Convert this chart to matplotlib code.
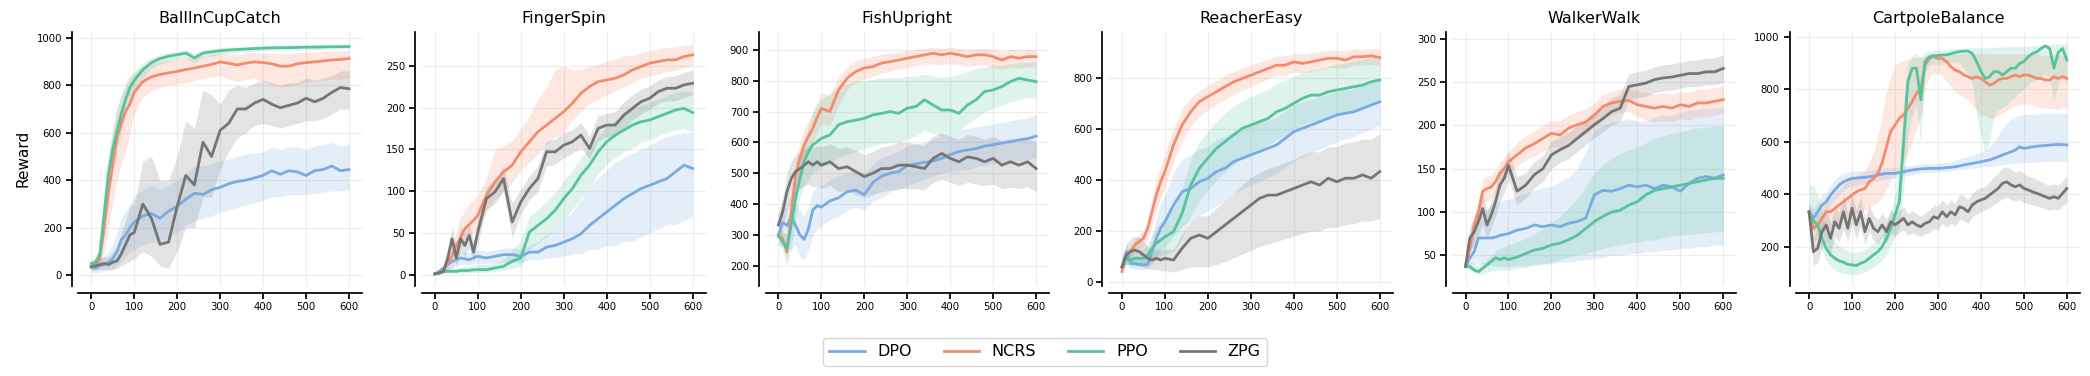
import matplotlib
matplotlib.use("Agg")
import matplotlib.pyplot as plt
import numpy as np

# ---------------- data ----------------
algorithms = ["DPO", "NCRS", "PPO", "ZPG"]
colors = {"DPO": "#79abe2", "NCRS": "#f48b6d", "PPO": "#56c39c", "ZPG": "#757575"}
titles = ["BallInCupCatch", "FingerSpin", "FishUpright", "ReacherEasy", "WalkerWalk", "CartpoleBalance"]

steps_a = [0, 10, 20, 30, 40, 50, 60, 70, 80, 90, 100, 120, 140, 160, 180, 200, 220, 240, 260, 280, 300,
           320, 340, 360, 380, 400, 420, 440, 460, 480, 500, 520, 540, 560, 580, 600]
steps_b = list(range(0, 601, 10))

# BallInCupCatch
ball_dpo = [35,30,40,45,55,70,100,150,170,200,225,250,260,240,270,290,320,345,340,360,370,385,395,400,410,420,440,425,440,435,420,440,445,460,440,445]
ball_dpo_lo = [15,10,15,20,20,25,40,60,80,100,110,130,140,140,160,180,210,230,240,250,265,275,285,295,305,315,330,330,340,340,340,345,350,355,355,360]
ball_dpo_hi = [55,55,70,80,100,130,180,240,270,300,330,360,380,360,380,400,430,460,460,470,480,490,500,510,515,520,540,530,540,540,530,545,550,560,545,550]
ball_ncrs = [40,45,70,200,350,470,580,640,690,720,770,815,835,845,852,858,866,872,880,887,898,892,885,893,898,895,890,880,880,890,895,898,902,906,908,912]
ball_ncrs_lo = [25,30,40,100,200,300,400,470,520,600,680,750,775,790,800,805,810,820,828,835,840,825,815,822,828,818,805,795,795,805,812,818,822,826,825,830]
ball_ncrs_hi = [55,70,110,300,480,600,700,760,800,830,850,880,895,900,905,910,915,920,925,930,935,932,930,935,938,936,935,932,932,936,940,940,942,944,945,947]
ball_ppo = [50,55,90,260,430,530,610,680,740,790,820,865,895,912,922,928,935,915,935,940,945,948,950,952,954,956,957,958,958,959,960,960,961,962,962,963]
ball_ppo_lo = [35,40,60,180,330,420,520,600,680,740,780,830,870,890,900,910,915,895,918,922,930,935,938,940,942,944,945,946,947,948,949,950,951,952,952,953]
ball_ppo_hi = [65,75,130,340,520,620,700,760,810,840,860,895,915,930,937,942,948,935,950,953,957,959,961,962,964,965,966,967,968,968,969,969,970,970,971,971]
ball_zpg = [35,40,45,50,45,55,60,90,130,170,180,300,240,130,140,290,420,380,560,500,610,640,700,700,725,740,720,705,715,725,745,730,745,770,790,785]
ball_zpg_lo = [20,20,25,25,25,25,30,40,50,60,70,100,80,40,30,100,200,200,330,330,450,520,580,600,630,640,630,620,630,640,650,650,660,680,700,700]
ball_zpg_hi = [55,60,70,80,80,100,120,180,230,290,300,480,500,400,400,500,650,620,780,760,720,780,800,790,810,820,810,800,810,810,830,820,830,840,860,860]

# FingerSpin
finger_dpo = [1,4,8,12,16,18,20,19,18,20,22,20,22,24,24,22,27,27,33,35,39,43,49,59,67,75,83,91,97,103,107,111,115,123,131,127]
finger_dpo_lo = [0,2,4,6,8,10,12,12,12,13,14,13,14,15,15,14,18,18,20,20,22,25,25,30,30,35,35,40,40,45,50,55,60,60,65,70]
finger_dpo_hi = [3,6,12,18,22,25,28,27,26,28,30,28,30,32,32,30,35,40,48,55,65,75,90,105,115,125,135,140,145,150,155,160,165,168,170,170]
finger_ncrs = [1,2,5,15,22,35,45,55,60,65,71,95,111,123,131,147,159,171,179,187,195,205,217,225,231,233,235,239,245,249,253,255,257,257,261,263]
finger_ncrs_lo = [0,1,2,5,10,20,30,40,45,50,55,75,90,100,110,125,135,145,155,165,170,185,195,205,210,215,220,225,230,235,238,240,243,245,248,250]
finger_ncrs_hi = [2,4,8,25,35,50,70,75,85,90,95,115,150,155,160,175,190,210,225,245,250,245,245,250,252,255,258,262,262,265,268,270,272,272,275,275]
finger_ppo = [1,2,4,4,4,4,5,5,5,6,6,6,8,10,16,20,51,59,67,77,91,103,119,131,147,159,167,173,179,183,185,189,193,197,199,194]
finger_ppo_lo = [0,1,2,2,2,2,2,2,2,3,3,3,4,5,8,10,30,38,45,55,65,78,92,105,120,132,140,147,152,158,162,166,170,173,175,170]
finger_ppo_hi = [2,3,6,8,8,8,9,10,10,12,12,12,14,18,30,40,70,78,88,98,112,125,140,152,165,178,185,192,198,203,206,210,214,218,220,218]
finger_zpg = [1,2,4,20,43,20,43,35,47,27,51,91,99,115,63,87,103,115,147,147,155,159,167,151,175,179,179,191,199,207,211,219,223,223,227,229]
finger_zpg_lo = [0,1,2,10,25,10,28,22,32,15,38,78,85,100,45,72,90,100,130,132,140,145,152,138,160,165,165,175,185,192,198,205,208,208,212,215]
finger_zpg_hi = [2,4,8,30,58,32,58,50,62,40,65,105,113,130,85,102,118,130,160,162,170,173,182,165,190,193,195,207,215,222,226,233,237,238,242,245]

# FishUpright
fish_dpo = [300,340,330,360,330,300,285,320,380,395,390,410,420,440,445,430,470,490,500,505,525,530,535,540,548,560,570,575,580,588,592,598,602,608,612,620]
fish_dpo_lo = [280,300,270,250,270,230,220,250,300,320,330,350,360,380,390,380,410,420,440,445,460,470,480,490,500,505,510,510,520,525,530,535,540,540,545,550]
fish_dpo_hi = [320,380,390,430,400,380,360,390,440,460,460,480,490,500,510,500,530,550,560,570,590,595,600,610,620,630,640,645,650,655,660,665,670,675,680,690]
fish_ncrs = [294,289,245,375,494,548,592,620,645,680,710,700,770,808,830,841,846,857,862,867,873,878,884,889,884,889,884,878,884,884,878,867,878,873,878,878]
fish_ncrs_lo = [270,260,220,330,440,500,540,570,600,630,660,655,720,770,795,805,815,825,830,838,842,848,852,855,852,855,852,846,850,850,845,835,845,840,845,845]
fish_ncrs_hi = [320,315,275,420,540,600,640,670,700,730,760,750,810,845,865,872,878,885,890,893,898,902,905,908,905,908,905,902,905,905,902,895,902,900,902,902]
fish_ppo = [300,278,256,332,418,483,538,570,592,602,613,624,657,667,672,678,689,694,700,694,711,716,738,721,705,705,694,721,738,765,770,781,797,808,802,797]
fish_ppo_lo = [270,250,200,260,350,420,460,480,500,510,520,530,550,560,570,580,590,595,600,600,610,620,640,630,620,630,640,660,680,700,710,720,730,740,745,745]
fish_ppo_hi = [330,310,300,400,480,540,600,650,690,720,740,760,780,790,800,800,805,810,810,810,815,815,820,815,810,815,820,830,840,845,850,850,855,858,860,860]
fish_zpg = [332,375,440,483,505,515,526,537,526,537,526,537,515,521,505,489,500,515,515,526,526,521,515,548,564,548,537,553,548,537,548,526,537,526,537,515]
fish_zpg_lo = [290,320,380,420,440,450,460,465,455,460,450,460,440,445,430,420,430,440,445,450,450,450,445,470,480,470,460,470,465,460,465,450,455,450,455,440]
fish_zpg_hi = [370,420,500,540,560,570,580,590,580,590,585,595,580,585,575,560,570,585,590,600,600,595,590,620,630,620,610,625,620,610,620,605,612,605,612,600]

# ReacherEasy
reacher_dpo = [60,120,75,72,70,68,70,120,172,211,237,302,354,367,393,407,433,446,472,485,498,511,524,537,563,589,602,615,628,641,654,661,667,680,693,706]
reacher_dpo_lo = [50,80,55,50,50,50,50,70,100,120,140,180,220,240,260,280,300,320,350,365,380,395,410,425,450,475,490,505,520,535,550,560,570,585,600,615]
reacher_dpo_hi = [70,150,110,100,100,100,110,180,250,310,340,430,480,500,520,530,560,570,590,600,615,625,635,645,670,695,705,715,725,735,745,752,758,768,778,790]
reacher_ncrs = [42,107,120,146,159,172,211,276,341,393,433,537,615,667,706,726,745,765,784,797,810,823,836,849,849,862,856,862,869,876,876,869,882,882,886,879]
reacher_ncrs_lo = [40,90,100,120,130,140,170,220,280,330,370,470,550,610,650,675,695,715,735,750,765,780,795,810,810,822,818,825,832,840,840,835,848,850,852,848]
reacher_ncrs_hi = [45,125,140,170,185,205,250,330,400,450,500,600,680,720,750,770,790,810,825,838,850,862,872,885,885,895,892,898,903,908,908,904,912,912,915,912]
reacher_ppo = [60,94,87,94,94,94,107,133,152,165,178,198,270,380,446,485,524,550,576,602,615,628,641,667,680,700,719,732,732,745,752,758,765,771,784,791]
reacher_ppo_lo = [50,70,60,65,60,60,70,80,90,100,110,120,170,260,320,360,400,430,460,490,505,520,535,560,575,595,615,630,635,650,660,668,675,685,698,705]
reacher_ppo_hi = [70,120,115,120,125,130,150,185,215,235,255,290,370,480,550,590,630,660,690,710,725,740,755,775,790,805,820,830,835,845,852,858,865,872,880,885]
reacher_zpg = [60,107,120,126,120,107,94,87,94,87,94,87,133,172,185,172,198,224,250,276,302,328,341,341,354,367,380,393,380,407,393,407,407,420,407,433]
reacher_zpg_lo = [45,70,70,70,65,60,55,50,50,45,45,40,50,60,60,60,70,80,95,110,125,140,150,160,170,180,190,200,200,215,215,225,230,240,240,250]
reacher_zpg_hi = [75,150,170,180,175,160,140,130,130,125,130,130,190,240,260,260,290,320,350,380,410,430,445,455,470,480,500,510,510,530,530,545,550,560,560,580]

# WalkerWalk
walker_dpo = [37,47,54,70,70,70,70,71,73,74,75,79,81,85,83,85,83,87,89,93,120,125,124,127,131,129,131,127,131,129,124,133,139,141,139,143]
walker_dpo_lo = [35,38,40,40,40,38,38,37,37,37,37,38,38,40,40,40,42,42,44,45,46,48,50,50,52,52,54,54,56,56,58,58,60,60,62,62]
walker_dpo_hi = [40,60,75,95,100,105,108,110,112,114,115,118,122,125,128,130,135,140,150,170,195,200,205,205,208,205,205,210,212,212,215,218,218,220,220,222]
walker_ncrs = [38,58,85,100,124,127,129,135,145,150,158,166,174,179,185,191,189,197,201,204,212,222,226,228,229,224,222,220,222,220,224,222,226,226,228,230]
walker_ncrs_lo = [36,50,72,88,110,113,116,122,132,138,145,153,160,165,170,176,175,182,187,190,198,208,213,215,216,210,206,204,206,204,208,206,210,210,212,214]
walker_ncrs_hi = [40,66,98,112,138,142,143,148,158,163,170,180,188,194,200,206,205,212,216,219,226,236,240,242,243,240,238,236,238,236,240,238,242,242,244,246]
walker_ppo = [37,37,33,31,35,39,43,47,45,47,45,48,52,56,58,62,64,68,73,81,89,95,100,102,108,112,120,125,127,129,131,133,135,137,139,139]
walker_ppo_lo = [35,33,30,28,28,30,32,32,33,33,33,35,36,38,40,42,45,48,50,52,55,58,60,62,64,65,67,68,70,72,73,74,75,76,77,78]
walker_ppo_hi = [40,42,40,38,42,46,50,55,58,60,62,65,70,75,80,88,95,105,115,130,145,155,162,168,172,176,180,185,188,191,193,195,197,198,199,199]
walker_zpg = [37,70,77,89,104,85,97,112,131,139,154,124,131,143,150,166,172,177,185,193,201,208,216,220,245,247,249,253,255,256,258,260,260,262,262,266]
walker_zpg_lo = [35,55,62,72,85,70,82,95,112,122,138,108,116,128,135,150,157,162,170,178,186,193,200,205,230,232,234,238,240,241,243,245,245,247,247,250]
walker_zpg_hi = [39,85,92,106,122,100,112,128,148,155,170,140,146,158,165,182,187,192,200,208,216,223,232,236,260,262,264,268,270,271,273,275,276,278,278,282]

# CartpoleBalance (steps_b)
cart_dpo = [334,309,334,360,372,398,417,436,448,455,461,462,464,465,467,470,474,477,480,480,480,483,486,490,493,495,497,498,499,499,499,
            500,502,503,505,508,512,515,518,521,524,528,531,537,543,550,556,562,569,581,575,578,581,583,585,586,588,589,590,589,588]
cart_dpo_lo = [300,280,300,320,335,360,380,400,415,425,432,435,440,442,445,448,452,455,458,460,462,465,468,472,475,478,480,482,484,485,486,
               487,488,490,492,494,496,498,500,502,505,505,506,508,510,512,514,516,518,520,520,521,522,523,524,524,525,525,525,525,525]
cart_dpo_hi = [370,345,370,400,410,435,455,470,480,485,490,490,490,490,492,494,497,500,502,502,502,504,506,510,512,514,515,516,517,517,518,
               520,522,525,530,535,540,545,550,555,560,570,580,600,625,650,670,685,695,700,705,705,706,706,707,707,707,708,708,708,708]
cart_ncrs = [334,270,284,309,334,334,347,360,372,385,398,410,417,423,448,460,480,520,580,640,664,689,702,727,753,784,803,892,917,924,917,
             917,905,886,873,867,854,848,841,848,841,829,816,822,835,841,841,848,854,848,854,854,848,841,841,835,835,848,841,848,841]
cart_ncrs_lo = [300,220,230,250,270,270,280,290,300,310,320,330,335,340,350,360,370,390,420,450,480,500,520,560,600,650,700,800,850,860,860,
                850,830,810,790,780,770,760,740,720,700,700,690,690,700,710,720,730,740,740,745,745,740,735,730,728,726,725,725,730,730]
cart_ncrs_hi = [360,330,340,360,380,390,400,420,440,450,460,470,480,490,520,560,620,700,790,850,890,905,910,915,918,920,922,925,930,935,935,
                935,935,935,935,935,935,935,935,935,935,935,935,935,935,935,935,935,935,935,935,935,935,935,930,930,930,930,930,930,930]
cart_ppo = [330,300,284,233,195,170,157,147,142,134,132,129,138,144,157,170,182,201,233,271,322,372,600,829,880,880,760,905,924,928,928,
            930,931,935,940,943,945,945,936,905,867,841,848,867,867,854,867,880,880,898,905,924,936,942,955,965,955,880,940,955,911]
cart_ppo_lo = [280,260,240,190,150,125,112,105,100,98,96,95,100,105,115,125,135,150,175,205,240,270,420,620,700,740,600,860,890,895,895,
               897,898,900,905,900,880,860,820,700,620,560,600,700,720,730,740,760,770,790,800,820,830,840,850,860,840,760,820,850,820]
cart_ppo_hi = [440,430,400,330,280,240,220,205,195,185,180,178,185,190,200,215,225,250,290,335,400,480,750,900,930,935,920,940,945,948,950,
               950,952,953,955,956,957,958,958,958,958,958,958,960,960,960,962,962,963,963,963,964,965,966,968,970,970,970,972,972,972]
cart_zpg = [334,182,195,258,284,233,296,271,334,271,347,284,334,258,309,271,258,284,258,296,284,296,309,284,296,284,277,290,296,315,309,
            334,315,334,322,353,347,334,360,372,379,385,398,410,423,442,448,436,429,436,423,417,410,404,398,391,385,391,385,404,423]
cart_zpg_lo = [290,130,140,200,220,180,240,220,270,220,290,230,280,210,260,225,215,240,215,250,240,255,265,245,255,245,240,250,255,270,265,
               290,275,290,280,305,300,290,315,325,335,340,350,360,370,385,390,380,375,380,370,365,360,355,350,345,340,345,340,355,370]
cart_zpg_hi = [370,240,260,320,350,290,350,330,400,330,400,340,390,310,360,320,305,330,305,340,330,340,355,325,340,325,318,330,340,360,355,
               380,360,380,365,400,395,380,405,420,425,430,450,465,480,500,505,495,485,490,480,470,465,455,450,440,435,440,435,450,470]

panels = [
    ("BallInCupCatch", steps_a, {"DPO": (ball_dpo, ball_dpo_lo, ball_dpo_hi), "NCRS": (ball_ncrs, ball_ncrs_lo, ball_ncrs_hi),
                                 "PPO": (ball_ppo, ball_ppo_lo, ball_ppo_hi), "ZPG": (ball_zpg, ball_zpg_lo, ball_zpg_hi)},
     (-45, 1025), [0, 200, 400, 600, 800, 1000]),
    ("FingerSpin", steps_a, {"DPO": (finger_dpo, finger_dpo_lo, finger_dpo_hi), "NCRS": (finger_ncrs, finger_ncrs_lo, finger_ncrs_hi),
                             "PPO": (finger_ppo, finger_ppo_lo, finger_ppo_hi), "ZPG": (finger_zpg, finger_zpg_lo, finger_zpg_hi)},
     (-13.5, 290.7), [0, 50, 100, 150, 200, 250]),
    ("FishUpright", steps_a, {"DPO": (fish_dpo, fish_dpo_lo, fish_dpo_hi), "NCRS": (fish_ncrs, fish_ncrs_lo, fish_ncrs_hi),
                              "PPO": (fish_ppo, fish_ppo_lo, fish_ppo_hi), "ZPG": (fish_zpg, fish_zpg_lo, fish_zpg_hi)},
     (134, 959), [200, 300, 400, 500, 600, 700, 800, 900]),
    ("ReacherEasy", steps_a, {"DPO": (reacher_dpo, reacher_dpo_lo, reacher_dpo_hi), "NCRS": (reacher_ncrs, reacher_ncrs_lo, reacher_ncrs_hi),
                              "PPO": (reacher_ppo, reacher_ppo_lo, reacher_ppo_hi), "ZPG": (reacher_zpg, reacher_zpg_lo, reacher_zpg_hi)},
     (-14.5, 980), [0, 200, 400, 600, 800]),
    ("WalkerWalk", steps_a, {"DPO": (walker_dpo, walker_dpo_lo, walker_dpo_hi), "NCRS": (walker_ncrs, walker_ncrs_lo, walker_ncrs_hi),
                             "PPO": (walker_ppo, walker_ppo_lo, walker_ppo_hi), "ZPG": (walker_zpg, walker_zpg_lo, walker_zpg_hi)},
     (14.5, 308.4), [50, 100, 150, 200, 250, 300]),
    ("CartpoleBalance", steps_b, {"DPO": (cart_dpo, cart_dpo_lo, cart_dpo_hi), "NCRS": (cart_ncrs, cart_ncrs_lo, cart_ncrs_hi),
                                  "PPO": (cart_ppo, cart_ppo_lo, cart_ppo_hi), "ZPG": (cart_zpg, cart_zpg_lo, cart_zpg_hi)},
     (51.7, 1018.9), [200, 400, 600, 800, 1000]),
]

# ---------------- figure ----------------
plt.rcParams["font.family"] = ["DejaVu Sans"]
fig, axes = plt.subplots(1, 6, figsize=(20.9, 3.76), dpi=100)
fig.subplots_adjust(left=0.0375, right=0.9951, bottom=0.2394, top=0.9157, wspace=0.2116)

handles = {}
for ax, (title, xs, series, ylim, yticks) in zip(axes, panels):
    for alg in algorithms:
        mean, lo, hi = series[alg]
        c = colors[alg]
        ax.fill_between(xs, lo, hi, color=c, alpha=0.2, linewidth=0)
        (ln,) = ax.plot(xs, mean, color=c, lw=2.0, label=alg)
        handles[alg] = ln
    ax.set_title(title, fontsize=11.5, pad=6)
    ax.set_xlim(-30, 630)
    ax.set_ylim(*ylim)
    ax.set_xticks([0, 100, 200, 300, 400, 500, 600])
    ax.set_yticks(yticks)
    ax.grid(True, color="#ececec", lw=0.8)
    ax.set_axisbelow(True)
    for s in ("top", "right"):
        ax.spines[s].set_visible(False)
    for s in ("left", "bottom"):
        ax.spines[s].set_position(("outward", 4.8))
        ax.spines[s].set_linewidth(1.25)
        ax.spines[s].set_color("black")
    ax.tick_params(axis="both", labelsize=7.3, length=4, width=1.25, color="black", pad=3)

axes[0].set_ylabel("Reward", fontsize=11)

leg = fig.legend([handles[a] for a in algorithms], algorithms, loc="center", bbox_to_anchor=(0.5, 0.064),
                 ncol=4, fontsize=11.5, frameon=True, handlelength=2.2, columnspacing=2.0)
leg.get_frame().set_edgecolor("#cccccc")
for l in leg.get_lines():
    l.set_linewidth(2.0)

fig.savefig("out.png", dpi=100)
